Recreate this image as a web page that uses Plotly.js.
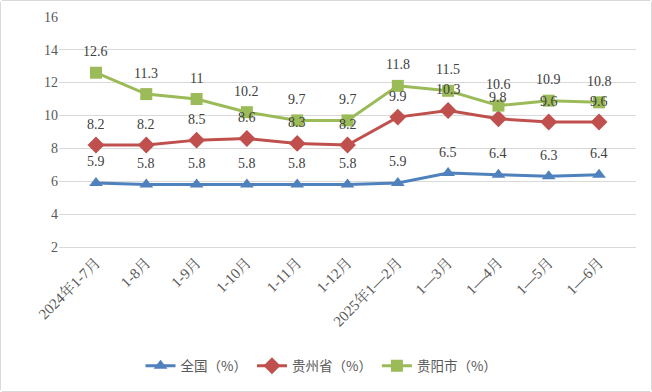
<!DOCTYPE html>
<html><head><meta charset="utf-8">
<script src="https://cdn.plot.ly/plotly-3.0.1.min.js"></script>
<style>
html,body{margin:0;padding:0;background:#fff;}
#chart{width:650px;height:390px;border:1px solid #d9d9d9;border-radius:3px;}
</style></head>
<body><div id="chart"></div>
<script>
const categories = ["2024年1-7月","1-8月","1-9月","1-10月","1-11月","1-12月","2025年1—2月","1—3月","1—4月","1—5月","1—6月"];
const national = [5.9,5.8,5.8,5.8,5.8,5.8,5.9,6.5,6.4,6.3,6.4];
const guizhou = [8.2,8.2,8.5,8.6,8.3,8.2,9.9,10.3,9.8,9.6,9.6];
const guiyang = [12.6,11.3,11,10.2,9.7,9.7,11.8,11.5,10.6,10.9,10.8];
const seriesNames = ["全国（%）","贵州省（%）","贵阳市（%）"];
const yTicks = [2,4,6,8,10,12,14,16];

const colors = ["#4f81bd","#c0504d","#9bbb59"];
const symbols = ["triangle-up","diamond","square"];
const sizes = [12,13,12];
const all = [national, guizhou, guiyang];

const traces = all.map((vals,i)=>({
  type:'scatter', mode:'lines+markers', x:categories, y:vals, name:seriesNames[i],
  line:{color:colors[i], width:3},
  marker:{symbol:symbols[i], size:sizes[i], color:colors[i]}
}));

const annotations = [];
all.forEach((vals,i)=>{
  vals.forEach((v,j)=>{
    annotations.push({x:categories[j], y:v, xref:'x', yref:'y', text:String(v),
      showarrow:false, yshift:21, font:{family:'Liberation Serif, serif', size:14, color:'#404040'}});
  });
});

const layout = {
  width:650, height:390,
  margin:{l:58, r:15, t:15, b:144, autoexpand:false},
  paper_bgcolor:'#fff', plot_bgcolor:'#fff',
  showlegend:true,
  legend:{orientation:'h', x:0.455, xanchor:'center', y:-0.515, yanchor:'middle',
    font:{family:'Noto Sans CJK SC, sans-serif', size:13.5, color:'#595959'}, itemwidth:30, traceorder:'normal'},
  xaxis:{type:'category', tickangle:-45, showgrid:false, showline:true, linecolor:'#d9d9d9', linewidth:1, zeroline:false,
    ticks:'', tickfont:{family:'Liberation Serif, Noto Serif CJK SC, serif', size:15, color:'#595959'}},
  yaxis:{range:[2,16.05], tickvals:yTicks, showgrid:true, gridcolor:'#d9d9d9', gridwidth:1,
    zeroline:false, showline:false, ticks:'', ticklen:0,
    tickfont:{family:'Liberation Serif, serif', size:14, color:'#595959'}},
  annotations:annotations
};
Plotly.newPlot('chart', traces, layout, {displayModeBar:false, staticPlot:true});
</script></body></html>
